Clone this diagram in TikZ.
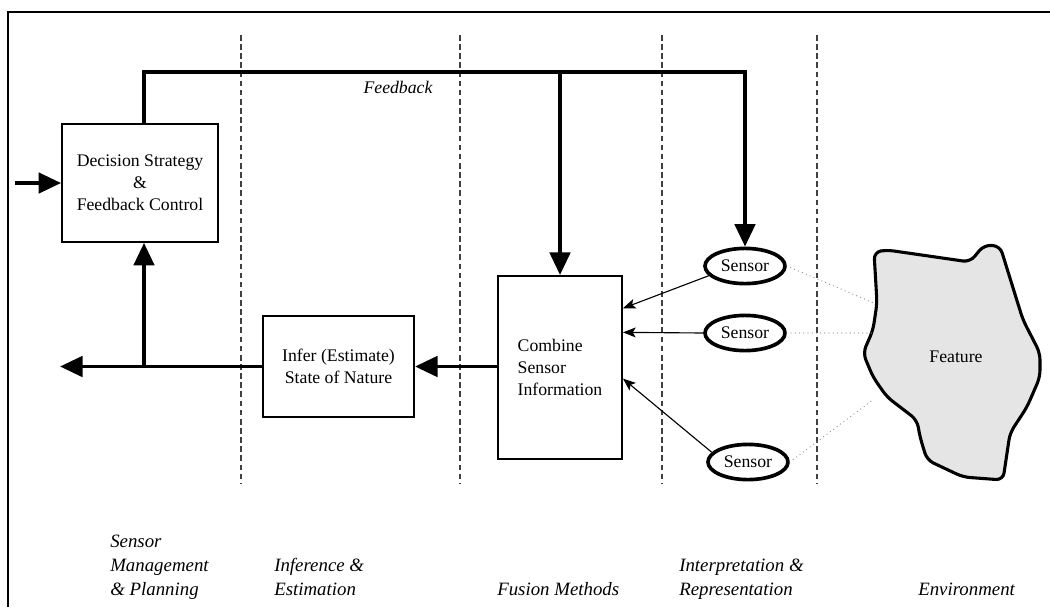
\documentclass[tikz,border=0pt]{standalone}
\usepackage{fontspec}
\setmainfont{Liberation Serif}
\usetikzlibrary{arrows.meta, positioning, calc, shapes.geometric}

\begin{document}
\begin{tikzpicture}[x=0.025cm, y=-0.025cm,
  dbox/.style={draw, line width=1.3pt, align=center, inner sep=0pt, font=\fontsize{12.6}{15.6}\selectfont},
  sens/.style={draw, ellipse, line width=2.6pt, inner sep=0pt, minimum width=2.0cm, minimum height=0.88cm, font=\fontsize{12.6}{15.6}\selectfont},
  flow/.style={line width=2.6pt, -{Triangle[length=16pt, width=14.5pt]}},
  sig/.style={line width=0.8pt, -{Stealth[length=9pt, width=7pt, inset=2pt]}},
  zone/.style={black!75, line width=0.8pt, dash pattern=on 4pt off 2.5pt},
  link/.style={black!45, line width=0.9pt, line cap=round, dash pattern=on 0pt off 3pt},
  lbl/.style={anchor=base west, align=left, inner sep=0pt, font=\fontsize{13.4}{17}\selectfont\itshape}
]
  \useasboundingbox (0,0) rectangle (1050,607);
  \draw[line width=0.9pt] (8,607) -- (8,12) -- (1050,12);

  \foreach \x in {241,460,662,817}
    \draw[zone] (\x,35) -- (\x,483);

  \node[dbox, minimum width=3.9cm, minimum height=2.95cm] (dec) at (140,183) {Decision Strategy\\\&\\Feedback Control};
  \node[dbox, minimum width=3.78cm, minimum height=2.53cm] (infer) at (338.5,366.5) {Infer (Estimate)\\State of Nature};
  \node[dbox, minimum width=3.1cm, minimum height=4.58cm, align=left] (combine) at (560,367.5) {Combine\\Sensor\\Information};

  \node[sens] (sensA) at (745,266) {Sensor};
  \node[sens] (sensB) at (745,333) {Sensor};
  \node[sens] (sensC) at (748,462) {Sensor};

  \draw[line width=2.2pt, fill=black!10, rounded corners=5pt]
    (874,252) -- (887,250) -- (970,262) -- (984,245) -- (1000,246) -- (1023,320) -- (1040,353)
    -- (1040,377) -- (1027,407) -- (1010,433) -- (1003,480) -- (963,477) -- (927,460)
    -- (920,437) -- (917,420) -- (887,397) -- (873,377) -- (863,353) -- (873,330)
    -- (877,303) -- cycle;
  \node[font=\fontsize{12.6}{15.6}\selectfont] (feature) at (956,357) {Feature};
  \coordinate (fA) at (876,304);
  \coordinate (fB) at (873,333);
  \coordinate (fC) at (874,399);

  \coordinate (fbtop) at (144,72);
  \coordinate (in) at (15,183);
  \coordinate (out) at (60,366.5);

  \draw[flow] (fbtop |- dec.north) -- (fbtop) -| (sensA.north);
  \draw[flow] (fbtop -| combine.north) -- (combine.north);
  \node[font=\fontsize{12.6}{15.6}\selectfont\itshape] (fbtxt) at (398,87) {Feedback};

  \draw[flow] (in) -- (dec.west);
  \draw[flow] (combine.west |- infer.east) -- (infer.east);
  \draw[flow] (infer.west) -- (out);
  \draw[flow] (fbtop |- infer.west) -- (fbtop |- dec.south);

  \draw[sig] (sensA.195) -- ($(combine.north east)!0.18!(combine.south east)$);
  \draw[sig] (sensB.west) -- ($(combine.north east)!0.31!(combine.south east)$);
  \draw[sig] (sensC.165) -- ($(combine.north east)!0.56!(combine.south east)$);

  \draw[link] (sensA.east) -- (fA);
  \draw[link] (sensB.east) -- (fB);
  \draw[link] (sensC.east) -- (fC);

  \node[lbl] (lplan) at (110,595) {Sensor\\Management\\\& Planning};
  \node[lbl] (linfer) at (274,595) {Inference \&\\Estimation};
  \node[lbl] (lfuse) at (497,595) {Fusion Methods};
  \node[lbl] (linterp) at (679,595) {Interpretation \&\\Representation};
  \node[lbl] (lenv) at (918,595) {Environment};
\end{tikzpicture}
\end{document}
